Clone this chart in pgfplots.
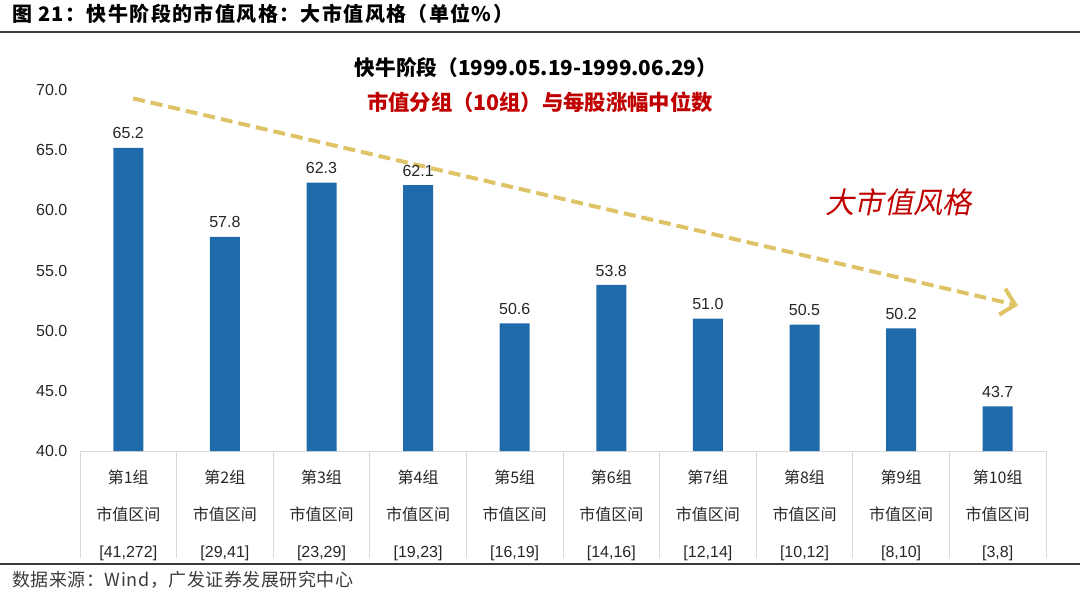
\documentclass[border=0pt]{standalone}
\usepackage{fontspec}
\setmainfont{Liberation Sans}
\newfontfamily\cjk{Noto Sans CJK SC}
\newfontfamily\cjkhead{Noto Sans CJK SC}[LetterSpace=7]
\newfontfamily\cjksrc{Noto Sans CJK SC}[LetterSpace=3]
\newfontfamily\cjkit{Noto Sans CJK SC}[FakeSlant=0.2]
\usepackage{pgfplots}
\pgfplotsset{compat=1.18}
\usetikzlibrary{arrows.meta}
\definecolor{barblue}{RGB}{31,106,170}
\definecolor{arrowgold}{RGB}{222,196,102}
\definecolor{titlered}{RGB}{192,0,0}
\definecolor{rulegray}{RGB}{60,60,60}
\definecolor{sepgray}{RGB}{217,217,217}
\newcommand\lab[2]{{\cjk 第#1组}\\{\cjk 市值区间}\\{[#2]}}

\begin{document}
\begin{tikzpicture}
\path[use as bounding box] (0,0) rectangle (810pt,-445.5pt);
% header and footer
\node[anchor=west, inner sep=0] at (9pt,-10.5pt)
  {\cjkhead\bfseries\fontsize{15}{17}\selectfont 图\ 21：快牛阶段的市值风格：大市值风格（单位\%）};
\draw[rulegray, line width=1.5pt] (0,-24pt) -- (810pt,-24pt);
\draw[rulegray, line width=1.5pt] (0,-423pt) -- (810pt,-423pt);
\node[anchor=west, inner sep=0, text=rulegray] at (9pt,-435pt)
  {\cjksrc\fontsize{13.5}{15}\selectfont 数据来源：Wind，广发证券发展研究中心};
% titles
\node[inner sep=0] at (402pt,-51pt)
  {\cjk\bfseries\fontsize{15.5}{18}\selectfont 快牛阶段（1999.05.19-1999.06.29）};
\node[inner sep=0, text=titlered] at (405pt,-77pt)
  {\cjk\bfseries\fontsize{16}{18}\selectfont 市值分组（10组）与每股涨幅中位数};
\node[inner sep=0, text=titlered] at (674pt,-151.5pt)
  {\cjkit\fontsize{22}{24}\selectfont 大市值风格};

\begin{axis}[
  at={(60pt,-338.25pt)}, anchor=south west,
  scale only axis,
  width=724.5pt, height=270.75pt,
  xmin=-0.5, xmax=9.5,
  ymin=40, ymax=70,
  ytick={40,45,...,70},
  xtick={0,...,9},
  xticklabels={\lab{1}{41,272},\lab{2}{29,41},\lab{3}{23,29},\lab{4}{19,23},
    \lab{5}{16,19},\lab{6}{14,16},\lab{7}{12,14},\lab{8}{10,12},
    \lab{9}{8,10},\lab{10}{3,8}},
  xticklabel style={font=\fontsize{12}{27.5}\selectfont, align=center,
    text=black!85, yshift=-11pt},
  yticklabel style={font=\fontsize{12}{14}\selectfont, text=black!85,
    xshift=-6pt},
  /pgf/number format/assume math mode=true,
  yticklabel={\pgfmathprintnumber[fixed,fixed zerofill,precision=1]{\tick}},
  axis x line*=bottom,
  axis y line*=left,
  x axis line style={sepgray, line width=0.75pt},
  y axis line style={draw=none},
  major tick length=0pt,
  extra x ticks={-0.5,0.5,...,9.5},
  extra x tick labels={},
  extra x tick style={major tick length=80pt, tick align=outside,
    tick style={sepgray, line width=0.75pt}},
  clip=false,
  ybar, bar width=22.5pt,
  nodes near coords,
  nodes near coords style={font=\fontsize{12}{14}\selectfont, text=black!85,
    yshift=3pt,
    /pgf/number format/.cd, fixed, fixed zerofill, precision=1,
    assume math mode=true},
]
\addplot[fill=barblue, draw=none] coordinates {
  (0,65.2) (1,57.8) (2,62.3) (3,62.1) (4,50.6)
  (5,53.8) (6,51.0) (7,50.5) (8,50.2) (9,43.7)};
\draw[arrowgold, line width=3pt, dash pattern=on 9pt off 4.5pt,
  -{Straight Barb[length=10pt, width=20pt, line width=3pt]}]
  (axis cs:0.05,69.3) -- (axis cs:9.21,52.1);
\end{axis}
\end{tikzpicture}
\end{document}
